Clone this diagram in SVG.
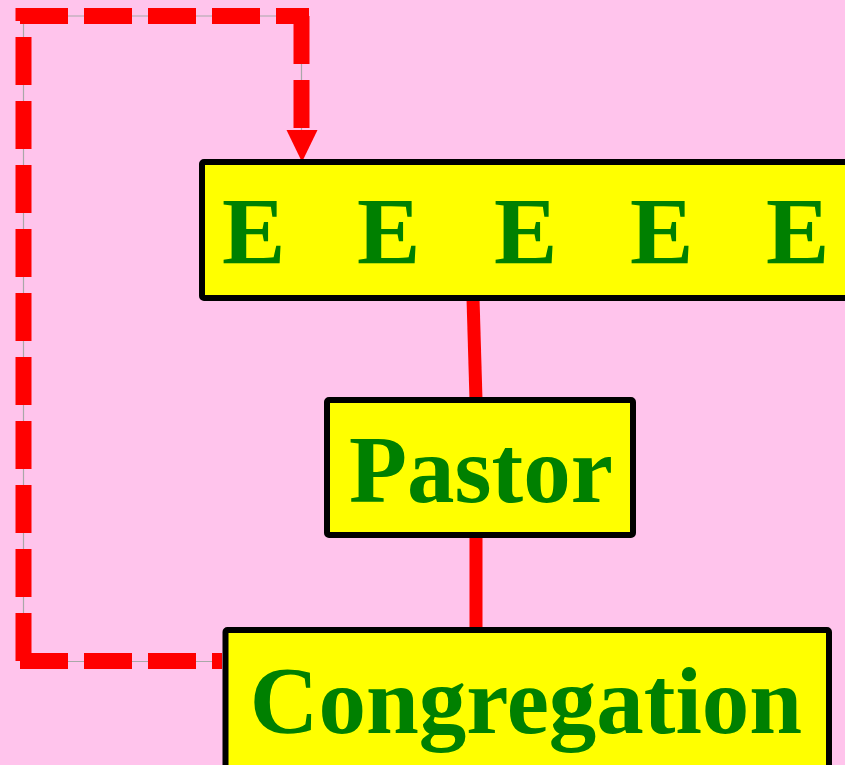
<svg xmlns="http://www.w3.org/2000/svg" width="845" height="765" viewBox="0 0 845 765">
<style>
.bg{fill:#FFC4EC}
.box{fill:#FFFF00;stroke:#000;stroke-width:6}
.lbl{font-family:"Liberation Serif","Times New Roman",serif;font-weight:bold;font-size:95px;fill:#008000}
.guide{fill:none;stroke:#A8A8A8;stroke-width:1.2}
.dash{stroke:#FF0000;stroke-width:16;stroke-dasharray:48 16;fill:none}
.solid{stroke:#FF0000;stroke-width:13;fill:none}
</style>
<rect class="bg" x="0" y="0" width="845" height="765"/>
<g id="connectors">
<polyline class="guide" points="222,661.5 23.5,661.5 23.5,16 301.5,16 301.5,132"/>
<line class="dash" x1="20" y1="661" x2="222" y2="661"/>
<line class="dash" x1="23.5" y1="661" x2="23.5" y2="8"/>
<line class="dash" x1="20" y1="16" x2="309" y2="16"/>
<line class="dash" x1="301.5" y1="16" x2="301.5" y2="131"/>
<polygon points="286.5,130 317.5,130 302,162" fill="#FF0000"/>
<line class="solid" x1="473" y1="298" x2="476" y2="400"/>
<line class="solid" x1="476" y1="535" x2="476" y2="630"/>
</g>
<g id="elders">
<rect class="box" x="202" y="162" width="680" height="136" rx="2"/>
<text class="lbl"><tspan x="222" y="264">E</tspan><tspan x="357" y="264">E</tspan><tspan x="494" y="264">E</tspan><tspan x="630" y="264">E</tspan><tspan x="766" y="264">E</tspan></text>
</g>
<g id="pastor">
<rect class="box" x="327" y="400" width="306" height="135" rx="2"/>
<text class="lbl" x="481" y="502" text-anchor="middle">Pastor</text>
</g>
<g id="congregation">
<rect class="box" x="225.5" y="630" width="603.5" height="160" rx="2"/>
<text class="lbl" x="526" y="733" text-anchor="middle">Congregation</text>
</g>
</svg>
